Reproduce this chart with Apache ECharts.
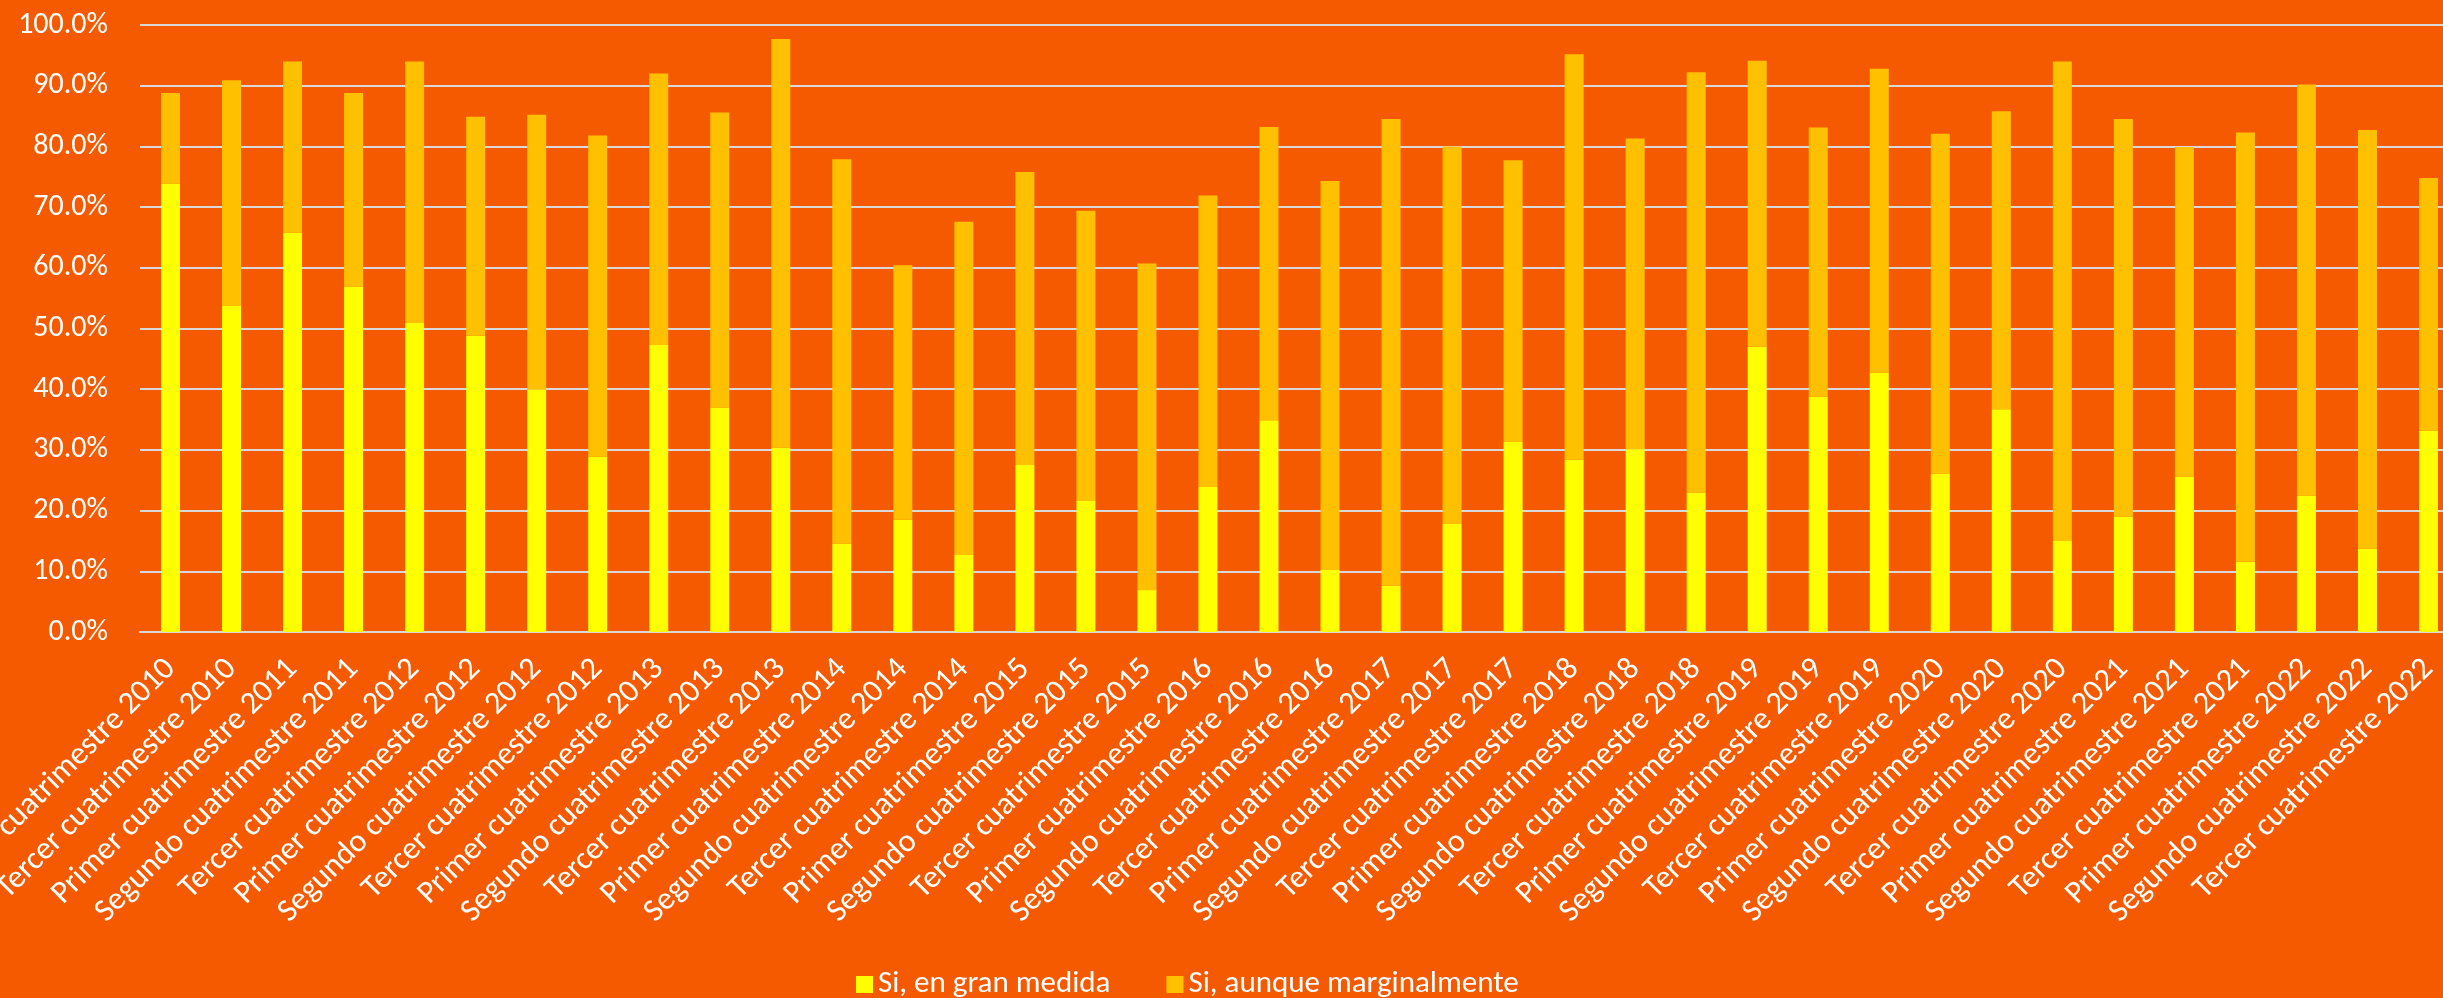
<!DOCTYPE html>
<html>
<head>
<meta charset="utf-8">
<script src="https://cdn.jsdelivr.net/npm/echarts@6/dist/echarts.min.js"></script>
<style>
  html, body { margin: 0; padding: 0; background: #F65A00; }
  #chart { width: 2443px; height: 998px; }
</style>
</head>
<body>
<div id="chart"></div>
<script>
// periodos (eje x)
var categories = [
  'Segundo cuatrimestre 2010', 'Tercer cuatrimestre 2010',
  'Primer cuatrimestre 2011', 'Segundo cuatrimestre 2011', 'Tercer cuatrimestre 2012',
  'Primer cuatrimestre 2012', 'Segundo cuatrimestre 2012', 'Tercer cuatrimestre 2012',
  'Primer cuatrimestre 2013', 'Segundo cuatrimestre 2013', 'Tercer cuatrimestre 2013',
  'Primer cuatrimestre 2014', 'Segundo cuatrimestre 2014', 'Tercer cuatrimestre 2014',
  'Primer cuatrimestre 2015', 'Segundo cuatrimestre 2015', 'Tercer cuatrimestre 2015',
  'Primer cuatrimestre 2016', 'Segundo cuatrimestre 2016', 'Tercer cuatrimestre 2016',
  'Primer cuatrimestre 2017', 'Segundo cuatrimestre 2017', 'Tercer cuatrimestre 2017',
  'Primer cuatrimestre 2018', 'Segundo cuatrimestre 2018', 'Tercer cuatrimestre 2018',
  'Primer cuatrimestre 2019', 'Segundo cuatrimestre 2019', 'Tercer cuatrimestre 2019',
  'Primer cuatrimestre 2020', 'Segundo cuatrimestre 2020', 'Tercer cuatrimestre 2020',
  'Primer cuatrimestre 2021', 'Segundo cuatrimestre 2021', 'Tercer cuatrimestre 2021',
  'Primer cuatrimestre 2022', 'Segundo cuatrimestre 2022', 'Tercer cuatrimestre 2022'
];

// % "Si, en gran medida"
var granMedida = [
  73.9, 53.7, 65.8, 56.9, 50.9, 48.8, 39.9, 28.9, 47.3, 37.0, 30.4,
  14.6, 18.5, 12.7, 27.5, 21.6, 6.9, 23.9, 34.9, 10.2, 7.6, 17.8, 31.3,
  28.4, 30.1, 23.0, 47.0, 38.8, 42.7, 26.1, 36.7, 15.0, 19.0, 25.6, 11.6,
  22.5, 13.7, 33.2
];

// % "Si, aunque marginalmente"
var marginalmente = [
  14.9, 37.2, 28.2, 31.9, 43.1, 36.1, 45.3, 52.9, 44.7, 48.6, 67.3,
  63.3, 41.9, 54.9, 48.3, 47.8, 53.8, 48.0, 48.3, 64.1, 76.9, 62.2, 46.4,
  66.8, 51.2, 69.2, 47.1, 44.3, 50.1, 56.0, 49.1, 79.0, 65.5, 54.3, 70.7,
  67.7, 69.0, 41.6
];

var seriesNames = ['Si, en gran medida', 'Si, aunque marginalmente'];

var fontFamily = 'Carlito, Lato, sans-serif';
var chart = echarts.init(document.getElementById('chart'));

var option = {
    backgroundColor: '#F65A00',
    animation: false,
    grid: {
        left: 140,
        right: -16,
        top: 25,
        bottom: 366,
        containLabel: false,
        outerBoundsMode: 'none'
    },
    legend: {
        data: seriesNames,
        top: 964,
        left: 851,
        itemWidth: 17,
        itemHeight: 17,
        itemGap: 56,
        icon: 'rect',
        textStyle: {
            color: '#ffffff',
            fontSize: 31,
            fontFamily: fontFamily
        }
    },
    xAxis: {
        type: 'category',
        data: categories,
        axisTick: { show: false },
        axisLine: {
            lineStyle: { color: '#D9D9D9', width: 2 }
        },
        axisLabel: {
            interval: 0,
            rotate: 45,
            margin: 32,
            color: '#ffffff',
            fontSize: 32,
            fontFamily: fontFamily
        }
    },
    yAxis: {
        type: 'value',
        min: 0,
        max: 100,
        interval: 10,
        axisLine: { show: false },
        axisTick: { show: false },
        axisLabel: {
            margin: 32,
            color: '#ffffff',
            fontSize: 30,
            fontFamily: fontFamily,
            formatter: function (v) {
                return v.toFixed(1) + '%';
            }
        },
        splitLine: {
            show: true,
            lineStyle: { color: '#D9D9D9', width: 2 }
        }
    },
    series: [
        {
            name: seriesNames[0],
            type: 'bar',
            stack: 'total',
            barWidth: 19,
            data: granMedida,
            itemStyle: { color: '#FFFF00' }
        },
        {
            name: seriesNames[1],
            type: 'bar',
            stack: 'total',
            barWidth: 19,
            data: marginalmente,
            itemStyle: { color: '#FFC000' }
        }
    ]
};
chart.setOption(option);
</script>
</body>
</html>
